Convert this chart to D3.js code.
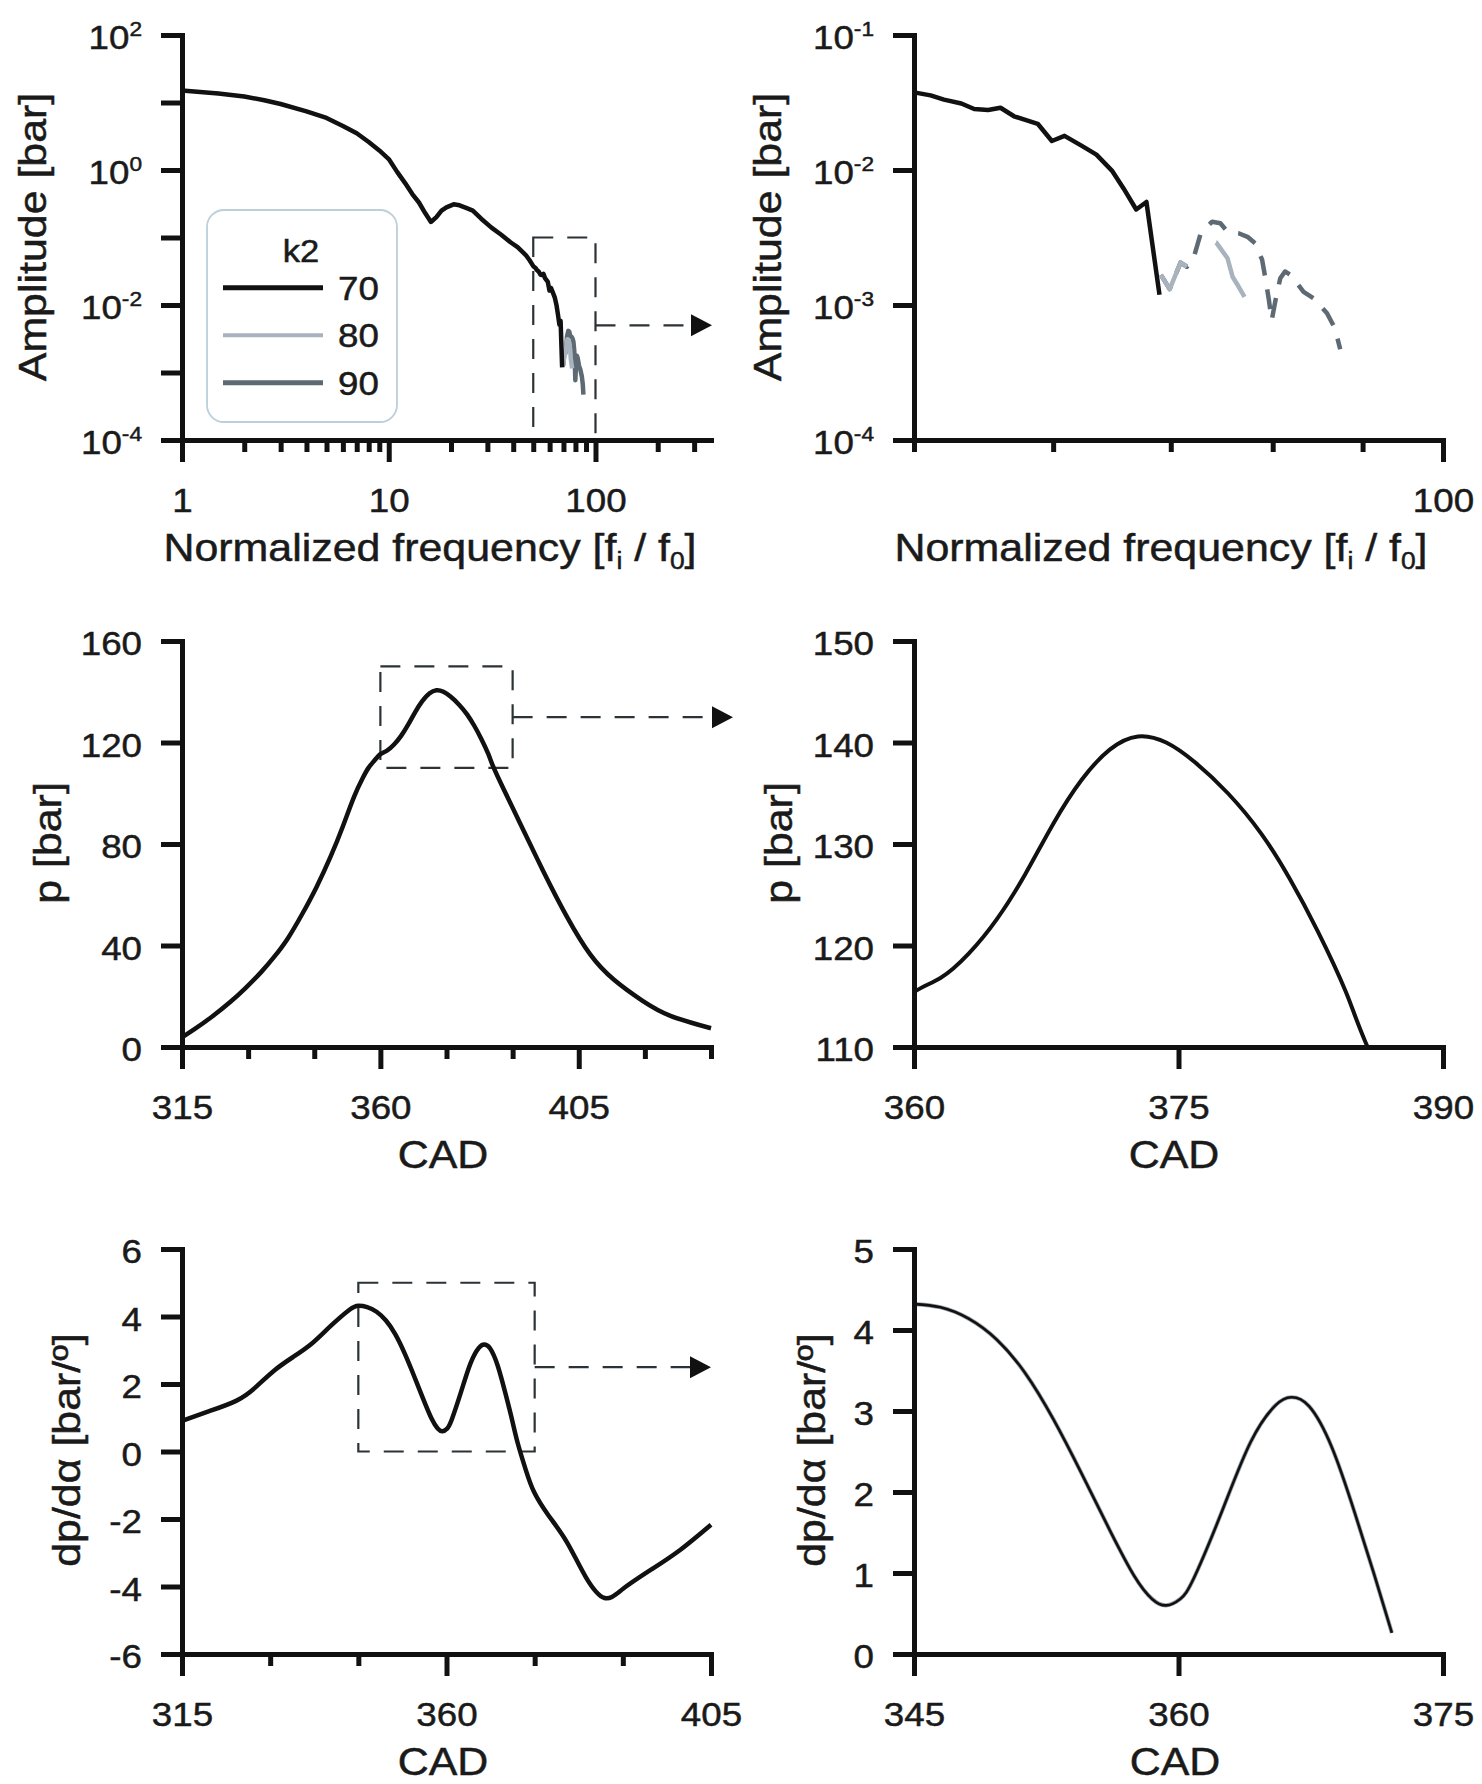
<!DOCTYPE html>
<html>
<head>
<meta charset="utf-8">
<script src="https://cdn.jsdelivr.net/npm/d3@7"></script>
<style>
  body { margin: 0; background: #fff; }
  svg text { font-family: "Liberation Sans", Arial, sans-serif; fill: #1a1a1a; stroke: #1a1a1a; stroke-width: 0.5px; }
</style>
</head>
<body>
<div id="my_chart"></div>
<script>
// spectrum, k2 = 70 (normalized frequency / amplitude in bar)
const freq70 = [1, 1.5, 2, 2.5, 3, 4, 5, 6, 7, 8, 9, 10, 11, 12, 13, 14, 15, 16, 17, 18, 19,
  20.6, 22, 24, 25.5, 28, 31.4, 35, 38.8, 42, 46, 48,
  50, 51.1, 52.0, 53.2, 54.1, 55.1, 56.0, 57.0, 58.8, 59.9, 60.9, 62.3, 63.5, 64.8, 65.8, 66.9, 67.8, 68.97];
const amp70 = [15, 13.6, 12.3, 10.8, 9.5, 7.4, 5.9, 4.5, 3.5, 2.6, 1.95, 1.45, 0.93, 0.64, 0.44, 0.33, 0.23, 0.17, 0.2, 0.25, 0.28,
  0.31, 0.30, 0.27, 0.25, 0.19, 0.14, 0.11, 0.085, 0.072, 0.055, 0.046,
  0.0376, 0.0357, 0.0332, 0.0311, 0.0283, 0.0278, 0.0289, 0.025, 0.022, 0.0164, 0.0179, 0.0151, 0.0130, 0.0099, 0.0073, 0.0051, 0.0058, 0.00119];
// k2 = 80
const freq80 = [69.1, 69.9, 70.9, 71.5, 72.3, 73.2, 74.3, 75.4, 75.9, 76.5, 77.1];
const amp80 = [0.00167, 0.00131, 0.00206, 0.00192, 0.0024, 0.0031, 0.0029, 0.00222, 0.00162, 0.00137, 0.00115];
// k2 = 90
const freq90 = [69.1, 69.9, 70.9, 71.5, 72.2, 72.8, 73.9, 74.7, 75.4, 76.5, 77.4, 78.2, 78.9, 79.3, 79.6, 79.9,
  80.3, 80.8, 81.3, 81.9, 83.3, 84.4, 85.9, 86.8, 87.4];
const amp90 = [0.00167, 0.00131, 0.00206, 0.00192, 0.00234, 0.0034, 0.00414, 0.00403, 0.00349, 0.0034, 0.0032, 0.00286, 0.00216, 0.00149, 0.00109, 0.00077,
  0.00109, 0.00158, 0.00177, 0.00167, 0.00125, 0.00112, 0.00087, 0.00067, 0.00047];

// cylinder pressure vs crank angle
const cadP = [315, 318, 322, 326, 329.4, 333, 335.9, 339, 342.3, 345.5, 348.7, 351.5, 354, 356, 357.3, 358.7, 360,
  361.5, 363.1, 364.7, 366.3, 367.9, 369.5, 371.1, 372.7, 374.3, 375.9, 377.8, 379.7, 381.3, 382.9, 384.5,
  385.6, 388, 391.6, 396.9, 402.3, 407.6, 413, 419.4, 425.8, 435];
const pressure = [3.8, 7.2, 12.2, 17.8, 23.2, 29.6, 35.5, 42.8, 52.5, 63, 75, 87, 98.5, 106, 110, 113, 115.4,
  116.8, 119.2, 122.6, 127.0, 132.0, 136.3, 139.3, 140.6, 140.0, 138.1, 135.0, 131.0, 126.6, 121.4, 115.4,
  110.5, 101.5, 88.5, 69.5, 51.4, 36.5, 26.5, 18.3, 12.3, 7.4];

// pressure rise rate vs crank angle
const cadD = [315, 319.4, 324.2, 327.5, 330.7, 333.9, 337.1, 340.3, 343.5, 345,
  346.5, 348.1, 349.7, 351.3, 352.9, 354.5, 356.1, 357.5, 358.5, 359.3, 360.1,
  360.9, 362.5, 364.1, 365.5, 366.4, 367.4, 368.7, 370.0, 371.1, 372.1,
  373.5, 374.9, 377.3, 380.5, 383.7, 386.9, 390.1, 395, 399.8, 405];
const dpda = [0.91, 1.18, 1.5, 1.9, 2.4, 2.8, 3.2, 3.72, 4.2, 4.32,
  4.28, 4.14, 3.88, 3.47, 2.90, 2.23, 1.53, 0.96, 0.68, 0.60, 0.68,
  0.95, 1.78, 2.62, 3.07, 3.17, 3.06, 2.55, 1.74, 0.98, 0.26,
  -0.55, -1.2, -1.88, -2.69, -3.72, -4.34, -4.06, -3.48, -2.91, -2.17];

// legend
const k2Values = ["70", "80", "90"];

// tick values
const fMajor = [1, 10, 100];
const fMinor = [2, 3, 4, 5, 6, 7, 8, 9, 20, 30, 40, 50, 60, 70, 80, 90, 200, 300];
const ampMajor = [1e-4, 1e-2, 1, 1e2];
const ampMinor = [1e-3, 1e-1, 10];
const fZoomMinor = [50, 60, 70, 80, 90];
const fZoomMajor = [100];
const ampZoomTicks = [1e-4, 1e-3, 1e-2, 1e-1];
const cadMajor = [315, 360, 405];
const cadMinorP = [330, 345, 375, 390, 420, 435];
const cadMinorD = [330, 345, 375, 390];
const pTicks = [0, 40, 80, 120, 160];
const pZoomTicks = [110, 120, 130, 140, 150];
const cadZoomP = [360, 375, 390];
const dTicks = [-6, -4, -2, 0, 2, 4, 6];
const dZoomTicks = [0, 1, 2, 3, 4, 5];
const cadZoomD = [345, 360, 375];

// zoom boxes [x0, x1, y0, y1, arrow y]
const box1 = [50, 100, 1e-4, 1e-1, 0.005];
const box3 = [360, 390, 110, 150, 130];
const box5 = [345, 375, 0, 5, 2.5];

const LBL = 34, TTL = 39, SX = 1.08, TSX = 1.1;
const c70 = "#111", c80 = "#a8b3bd", c90 = "#5d6a74";
const num = d => (d < 0 ? "-" + (-d) : String(d));

const svg = d3.select("#my_chart")
    .append("svg")
    .attr("width", 1482)
    .attr("height", 1784);

const spec70 = freq70.map((f, i) => ({ x: f, y: amp70[i] }));
const spec80 = freq80.map((f, i) => ({ x: f, y: amp80[i] }));
const spec90 = freq90.map((f, i) => ({ x: f, y: amp90[i] }));
const pres = cadP.map((c, i) => ({ x: c, y: pressure[i] }));
const rate = cadD.map((c, i) => ({ x: c, y: dpda[i] }));

function styleAxis(ax) {
    ax.attr("font-size", null).attr("font-family", null);
    ax.select(".domain").attr("stroke", "#111").attr("stroke-width", 5).attr("stroke-linecap", "square");
    ax.selectAll(".tick line").attr("stroke", "#111").attr("stroke-width", 5);
    ax.selectAll(".tick text").attr("font-size", LBL).attr("fill", "#1a1a1a");
}

function powLabels(ax) {
    ax.selectAll(".tick text").each(function(d) {
        const t = d3.select(this).text("10");
        t.append("tspan").attr("dy", -13).attr("font-size", 21).text(Math.round(Math.log10(d)));
    });
}

function xAxis(x, y0, major, minor) {
    const a1 = svg.append("g").attr("transform", `translate(0,${y0})`)
        .call(d3.axisBottom(x).tickValues(minor).tickSize(12).tickSizeOuter(0).tickFormat(""));
    styleAxis(a1);
    const a2 = svg.append("g").attr("transform", `translate(0,${y0})`)
        .call(d3.axisBottom(x).tickValues(major).tickSize(22).tickSizeOuter(0).tickFormat(num));
    styleAxis(a2);
    a2.selectAll(".tick text").attr("y", 72).attr("dy", 0).attr("transform", `scale(${SX},1)`);
}

function yAxis(y, x0, ticks, fmt, pow) {
    const a = svg.append("g").attr("transform", `translate(${x0},0)`)
        .call(d3.axisLeft(y).tickValues(ticks).tickSize(21).tickSizeOuter(0).tickFormat(fmt));
    styleAxis(a);
    a.selectAll(".tick text").attr("x", -40 / SX).attr("dy", "0.4em").attr("transform", `scale(${SX},1)`);
    if (pow) powLabels(a);
    return a;
}

function yTitle(bx, cy, txt) {
    svg.append("text")
        .attr("transform", `translate(${bx},${cy}) rotate(-90) scale(${TSX},1)`)
        .attr("text-anchor", "middle").attr("font-size", TTL).text(txt);
}

function xTitle(cx, by, txt) {
    return svg.append("text")
        .attr("transform", `translate(${cx},${by}) scale(${TSX},1)`)
        .attr("text-anchor", "middle").attr("font-size", TTL).text(txt);
}

function freqTitle(cx, by) {
    const t = xTitle(cx, by, "Normalized frequency [f");
    t.append("tspan").attr("font-size", 24).attr("dy", 8).text("i");
    t.append("tspan").attr("dy", -8).text(" / f");
    t.append("tspan").attr("font-size", 24).attr("dy", 8).text("0");
    t.append("tspan").attr("dy", -8).text("]");
}

function curve(data, x, y, color, width, dash, smooth) {
    const line = d3.line().x(d => x(d.x)).y(d => y(d.y));
    if (smooth) line.curve(d3.curveNatural);
    svg.append("path").datum(data)
        .attr("d", line)
        .attr("fill", "none")
        .attr("stroke", color)
        .attr("stroke-width", width)
        .attr("stroke-linejoin", "round")
        .attr("stroke-dasharray", dash);
}

function zoomBox(x, y, b, tipX) {
    const st = g => g.attr("fill", "none").attr("stroke", "#2b3336").attr("stroke-width", 2.2).attr("stroke-dasharray", "20,14");
    svg.append("rect")
        .attr("x", x(b[0])).attr("y", y(b[3]))
        .attr("width", x(b[1]) - x(b[0])).attr("height", y(b[2]) - y(b[3]))
        .call(st);
    svg.append("line")
        .attr("x1", x(b[1])).attr("x2", tipX - 18)
        .attr("y1", y(b[4])).attr("y2", y(b[4]))
        .call(st);
    svg.append("path")
        .attr("d", `M${tipX},${y(b[4])} l-21,-11 v22 z`)
        .attr("fill", "#111");
}

// ---- panel 1: full spectrum ----
const x1 = d3.scaleLog().domain([1, 362]).range([182, 711]);
const y1 = d3.scaleLog().domain([1e-4, 1e2]).range([440, 35]);
zoomBox(x1, y1, box1, 712);
curve(spec90, x1, y1, c90, 4.5);
curve(spec80, x1, y1, c80, 4.5);
curve(spec70, x1, y1, c70, 4.5);
xAxis(x1, 440, fMajor, fMinor);
yAxis(y1, 182, ampMinor, "");
yAxis(y1, 182, ampMajor, "", true);
yTitle(46, 237, "Amplitude [bar]");
freqTitle(430, 561);

// legend
const leg = svg.append("g");
leg.append("rect").attr("x", 207).attr("y", 210).attr("width", 190).attr("height", 212).attr("rx", 17)
    .attr("fill", "#fff").attr("stroke", "#bccfdb").attr("stroke-width", 1.8);
leg.append("text").attr("transform", `translate(301,262) scale(${SX},1)`).attr("text-anchor", "middle")
    .attr("font-size", 32).text("k2");
[c70, c80, c90].forEach((c, i) => {
    const yy = 287.7 + i * 47.5;
    leg.append("line").attr("x1", 223).attr("x2", 323).attr("y1", yy).attr("y2", yy)
        .attr("stroke", c).attr("stroke-width", i === 1 ? 4 : 5);
    leg.append("text").attr("transform", `translate(338,${yy + 12}) scale(${SX},1)`)
        .attr("font-size", LBL).text(k2Values[i]);
});

// ---- panel 2: spectrum detail ----
const x2 = d3.scaleLog().domain([50, 100]).range([914, 1443]);
const y2 = d3.scaleLog().domain([1e-4, 1e-1]).range([440, 35]);
curve(spec70.filter(d => d.x >= 50), x2, y2, c70, 4.5);
curve(spec90, x2, y2, c90, 4.5, "20,14");
curve(spec80, x2, y2, c80, 4.5, "53,45,400");
xAxis(x2, 440, fZoomMajor, fZoomMinor);
yAxis(y2, 914, ampZoomTicks, "", true);
yTitle(781, 237, "Amplitude [bar]");
freqTitle(1161, 561);

// ---- panel 3: pressure ----
const x3 = d3.scaleLinear().domain([315, 435]).range([182, 711]);
const y3 = d3.scaleLinear().domain([0, 160]).range([1047, 641]);
zoomBox(x3, y3, box3, 733);
curve(pres, x3, y3, c70, 4.5, null, true);
xAxis(x3, 1047, cadMajor, cadMinorP);
yAxis(y3, 182, pTicks, num);
yTitle(61, 843, "p [bar]");
xTitle(443, 1168, "CAD");

// ---- panel 4: pressure detail (clipped to the axes) ----
const x4 = d3.scaleLinear().domain([360, 390]).range([914, 1443]);
const y4 = d3.scaleLinear().domain([110, 150]).range([1047, 641]);
svg.append("clipPath").attr("id", "clip4").append("rect")
    .attr("x", 914).attr("y", 600).attr("width", 540).attr("height", 1047 - 600);
const before = svg.selectAll("path").size();
curve(pres.filter(d => d.x >= 358.7 && d.x <= 388), x4, y4, c70, 4, null, true);
svg.selectAll("path").filter((d, i) => i >= before).attr("clip-path", "url(#clip4)");
xAxis(x4, 1047, cadZoomP, []);
yAxis(y4, 914, pZoomTicks, num);
yTitle(792, 843, "p [bar]");
xTitle(1174, 1168, "CAD");

// ---- panel 5: dp/dα ----
const x5 = d3.scaleLinear().domain([315, 405]).range([182, 711]);
const y5 = d3.scaleLinear().domain([-6, 6]).range([1654, 1249]);
zoomBox(x5, y5, box5, 711);
curve(rate, x5, y5, c70, 4.5, null, true);
xAxis(x5, 1654, cadMajor, cadMinorD);
yAxis(y5, 182, dTicks, num);
yTitle(80, 1450, "dp/dα [bar/º]");
xTitle(443, 1775, "CAD");

// ---- panel 6: dp/dα detail ----
const x6 = d3.scaleLinear().domain([345, 375]).range([914, 1443]);
const y6 = d3.scaleLinear().domain([0, 5]).range([1654, 1249]);
const rateZoom = rate.filter(d => d.x >= 345 && d.x <= 372.1);
curve(rateZoom, x6, y6, "#9aa3ab", 4.2, null, true);
curve(rateZoom, x6, y6, c70, 2.6, null, true);
xAxis(x6, 1654, cadZoomD, []);
yAxis(y6, 914, dZoomTicks, num);
yTitle(825, 1450, "dp/dα [bar/º]");
xTitle(1175, 1775, "CAD");
</script>
</body>
</html>
